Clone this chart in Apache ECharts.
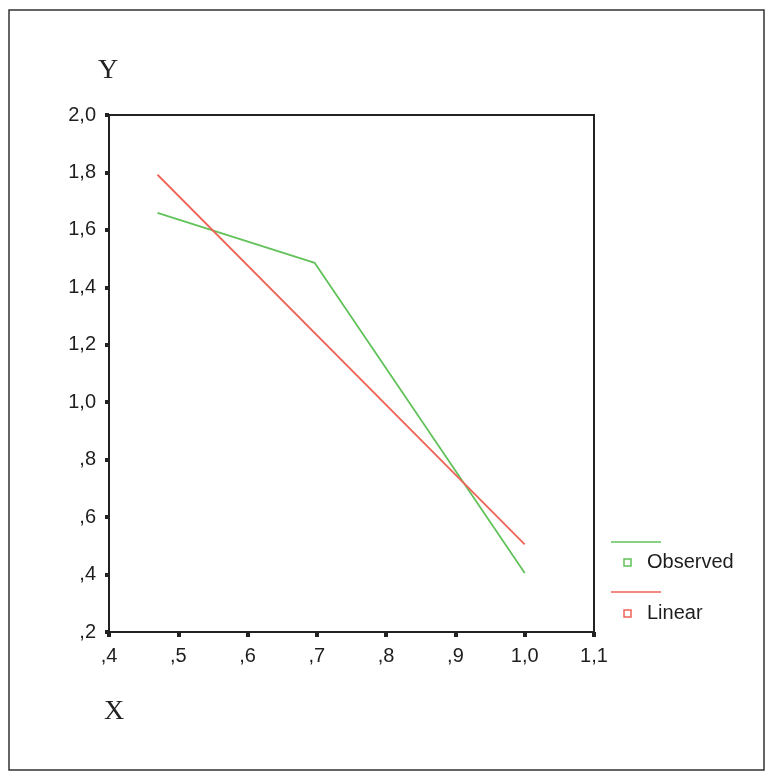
<!DOCTYPE html>
<html>
<head>
<meta charset="utf-8">
<script src="https://cdn.jsdelivr.net/npm/echarts@6/dist/echarts.min.js"></script>
<style>
html,body{margin:0;padding:0;background:#fff;}
#chart{width:769px;height:773px;}
</style>
</head>
<body>
<div id="chart"></div>
<script>
// Data
const observedX = [0.47, 0.697, 1.0];
const observedY = [1.659, 1.485, 0.405];
const linearX = [0.47, 1.0];
const linearY = [1.792, 0.505];
const seriesNames = ['Observed', 'Linear'];
const xTitle = 'X';
const yTitle = 'Y';

function fmt(v) {
  let s = (Math.round(v * 10) / 10).toFixed(1).replace('.', ',');
  if (s.startsWith('0,')) s = s.slice(1);
  return s;
}
const pairs = (xs, ys) => xs.map((x, i) => [x, ys[i]]);

const green = '#62c25a';
const red = '#ee6457';
const tickFont = {fontFamily: 'Liberation Sans, Arial, sans-serif', fontSize: 20, color: '#1e1e1e'};

const chart = echarts.init(document.getElementById('chart'));
chart.setOption({
  animation: false,
  backgroundColor: '#fff',
  grid: {left: 109, right: 175, top: 115, bottom: 141, show: true, borderColor: '#222', borderWidth: 2, containLabel: false},
  xAxis: {
    type: 'value', min: 0.4, max: 1.1, interval: 0.1,
    axisLine: {show: true, onZero: false, lineStyle: {color: '#222', width: 2}},
    axisTick: {show: true, length: 5, lineStyle: {color: '#222', width: 4}},
    axisLabel: Object.assign({formatter: fmt, margin: 14}, tickFont),
    splitLine: {show: false}
  },
  yAxis: {
    type: 'value', min: 0.2, max: 2.0, interval: 0.2,
    axisLine: {show: true, onZero: false, lineStyle: {color: '#222', width: 2}},
    axisTick: {show: true, length: 4, lineStyle: {color: '#222', width: 4}},
    axisLabel: Object.assign({formatter: fmt, margin: 13}, tickFont),
    splitLine: {show: false}
  },
  series: [
    {name: seriesNames[0], type: 'line', data: pairs(observedX, observedY), showSymbol: false, lineStyle: {color: green, width: 1.8}, itemStyle: {color: green}},
    {name: seriesNames[1], type: 'line', data: pairs(linearX, linearY), showSymbol: false, lineStyle: {color: red, width: 1.8}, itemStyle: {color: red}}
  ],
  graphic: [
    {type: 'rect', shape: {x: 9, y: 10, width: 755, height: 760}, style: {fill: 'none', stroke: '#333', lineWidth: 1.5}, silent: true},
    {type: 'text', left: 98, top: 57, style: {text: yTitle, font: '28px "Liberation Serif", "Times New Roman", serif', fill: '#222'}},
    {type: 'text', left: 104, top: 698, style: {text: xTitle, font: '28px "Liberation Serif", "Times New Roman", serif', fill: '#222'}},
    {type: 'line', shape: {x1: 611, y1: 542, x2: 661, y2: 542}, style: {stroke: green, lineWidth: 1.5}},
    {type: 'rect', shape: {x: 624, y: 559, width: 7, height: 7}, style: {fill: 'none', stroke: green, lineWidth: 1.5}},
    {type: 'text', left: 647, top: 552, style: {text: seriesNames[0], font: '20px "Liberation Sans", Arial, sans-serif', fill: '#1e1e1e'}},
    {type: 'line', shape: {x1: 611, y1: 592, x2: 661, y2: 592}, style: {stroke: red, lineWidth: 1.5}},
    {type: 'rect', shape: {x: 624, y: 610, width: 7, height: 7}, style: {fill: 'none', stroke: red, lineWidth: 1.5}},
    {type: 'text', left: 647, top: 603, style: {text: seriesNames[1], font: '20px "Liberation Sans", Arial, sans-serif', fill: '#1e1e1e'}}
  ]
});
</script>
</body>
</html>
